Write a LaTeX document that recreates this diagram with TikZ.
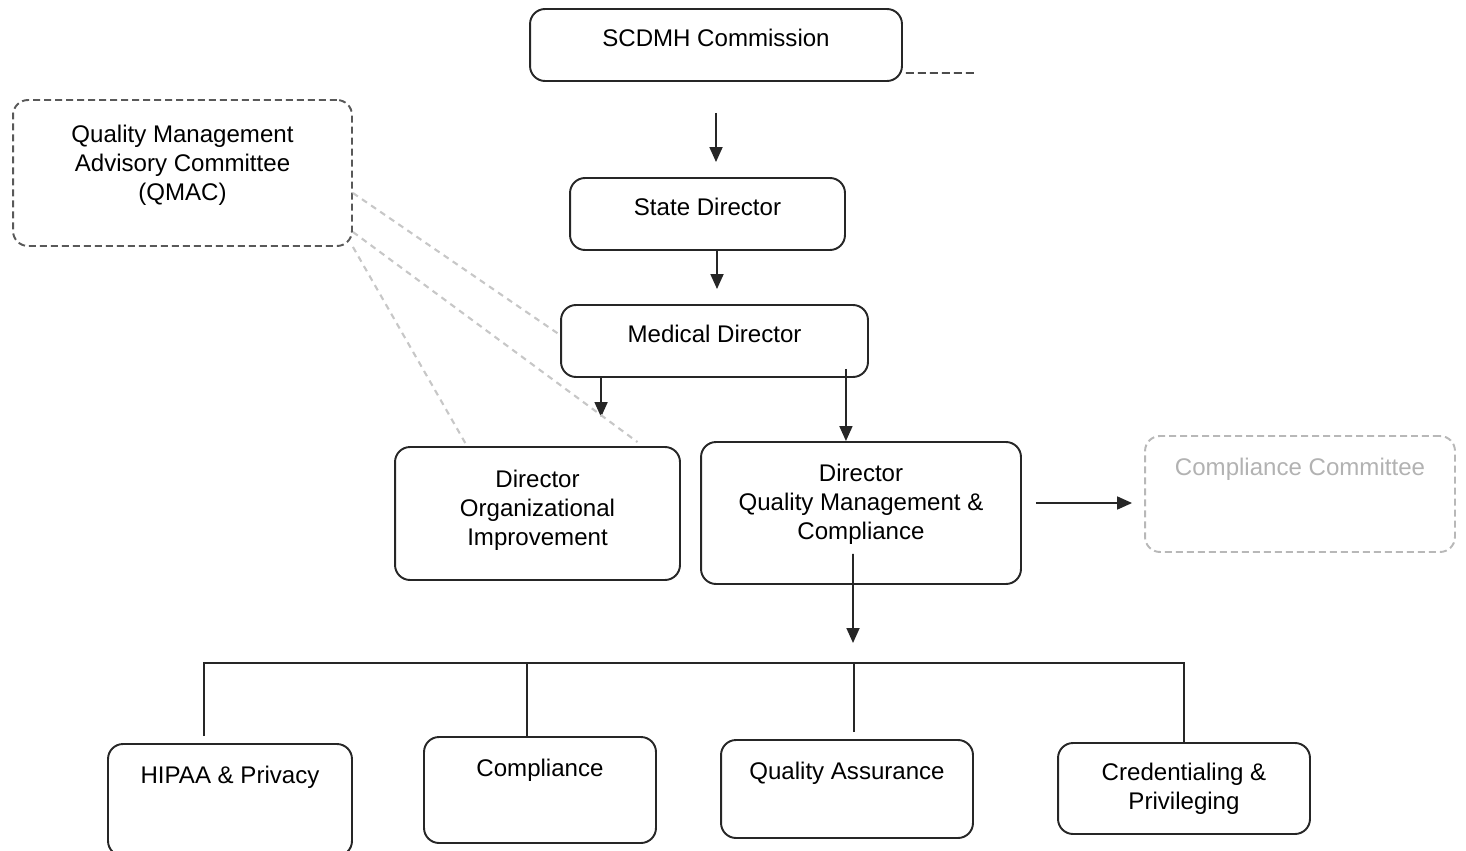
\documentclass[tikz,border=0pt]{standalone}
\usepackage{fontspec}
\setmainfont{Liberation Sans}
\usetikzlibrary{arrows.meta}

\tikzset{
  box/.style={draw=black!85, line width=1.1pt, rounded corners=0.3cm, align=center,
    font=\fontsize{13.7}{16.5}\selectfont},
  dashbox/.style={box, draw=black!65, dash pattern=on 0.14cm off 0.08cm},
  lightbox/.style={box, draw=black!28, text=black!30, dash pattern=on 0.14cm off 0.08cm},
  arr/.style={draw=black!85, line width=1pt, -{Triangle[width=0.26cm,length=0.3cm]}},
  advline/.style={draw=black!22, line width=1.2pt, dash pattern=on 0.12cm off 0.1cm},
  bar/.style={draw=black!85, line width=0.9pt}
}

\begin{document}
\begin{tikzpicture}[x=0.02cm, y=-0.02cm]

  \useasboundingbox (0,0) rectangle (1466,851);

  % Leitung
  \node[box, minimum width=7.44cm, minimum height=1.44cm, text depth=0.28cm] (com) at (716,45) {SCDMH Commission};
  \node[box, minimum width=5.5cm, minimum height=1.44cm, text depth=0.28cm] (sd) at (707.5,214) {State Director};
  \node[box, minimum width=6.14cm, minimum height=1.44cm, text depth=0.28cm] (md) at (714.5,341) {Medical Director};

  % Beirat (gestrichelt)
  \node[dashbox, minimum width=6.78cm, minimum height=2.92cm, text depth=0.4cm] (qmac) at (182.5,173)
    {Quality Management\\Advisory Committee\\(QMAC)};

  % Direktoren
  \node[box, minimum width=5.7cm, minimum height=2.66cm, text depth=0.22cm] (doi) at (537.5,513.5)
    {Director\\Organizational\\Improvement};
  \node[box, minimum width=6.4cm, minimum height=2.84cm, text depth=0.44cm] (dqm) at (861,513)
    {Director\\Quality Management \&\\Compliance};
  \node[lightbox, minimum width=6.2cm, minimum height=2.32cm, text depth=1.08cm] (cc) at (1300,494)
    {Compliance Committee};

  % Abteilungen
  \node[box, minimum width=4.88cm, minimum height=2.24cm, text depth=1.0cm] (hipaa) at (230,800) {HIPAA \& Privacy};
  \node[box, minimum width=4.64cm, minimum height=2.12cm, text depth=0.88cm] (comp) at (540,790) {Compliance};
  \node[box, minimum width=5.04cm, minimum height=1.96cm, text depth=0.72cm] (qa) at (847,789) {Quality Assurance};
  \node[box, minimum width=5.04cm, minimum height=1.82cm] (cred) at (1184,788.5) {Credentialing \&\\Privileging};

  \coordinate (hub) at (853,663);
  \coordinate (stub) at (975,73);

  % Pfeile
  \draw[arr, shorten <=0.62cm, shorten >=0.3cm] (com.south) -- (com.south |- sd.north);
  \draw[arr, shorten >=0.3cm] ([xshift=0.19cm]sd.south) -- ([xshift=0.19cm]sd.south |- md.north);
  \draw[arr, shorten >=0.58cm] ([xshift=0.82cm]md.south west) -- ([xshift=0.82cm]md.south west |- doi.north);
  \draw[arr, shorten <=-0.18cm] ([xshift=-0.46cm]md.south east) -- ([xshift=-0.46cm]md.south east |- dqm.north);
  \draw[arr, shorten <=-0.62cm, shorten >=0.4cm] ([xshift=-0.16cm]dqm.south) -- (hub);
  \draw[arr, shorten <=0.28cm, shorten >=0.24cm] ([yshift=0.2cm]dqm.east) -- ([yshift=0.2cm]dqm.east -| cc.west);

  % Verteiler
  \draw[bar] ([xshift=-0.52cm, yshift=0.14cm]hipaa.north) |- (hub) -| (cred.north);
  \draw[bar] ([xshift=-0.26cm]comp.north) -- ([xshift=-0.26cm]comp.north |- hub);
  \draw[bar] ([xshift=0.14cm, yshift=0.14cm]qa.north) -- ([xshift=0.14cm]qa.north |- hub);

  % gestrichelte Verbindungen
  \draw[draw=black!70, line width=1.1pt, dash pattern=on 0.16cm off 0.08cm, shorten <=0.06cm] ([yshift=-0.56cm]com.east) -- (stub);
  \draw[advline] ([yshift=-0.4cm]qmac.east) -- ([yshift=0.12cm]md.west);
  \draw[advline] ([yshift=-1.18cm]qmac.east) -- ([xshift=2cm, yshift=0.08cm]doi.north);
  \draw[advline] (qmac.south east) -- ([xshift=-1.41cm]doi.north);

\end{tikzpicture}
\end{document}
